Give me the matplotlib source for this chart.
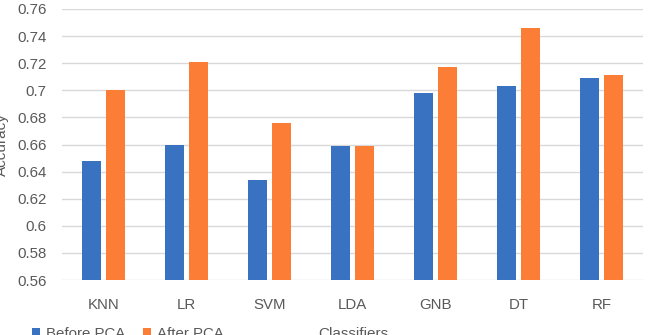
import matplotlib
matplotlib.use("Agg")
import matplotlib.pyplot as plt
import numpy as np

categories = ["KNN", "LR", "SVM", "LDA", "GNB", "DT", "RF"]
before_pca = [0.648, 0.660, 0.634, 0.659, 0.698, 0.703, 0.709]
after_pca = [0.700, 0.721, 0.676, 0.659, 0.717, 0.746, 0.711]
yticks = [0.56, 0.58, 0.6, 0.62, 0.64, 0.66, 0.68, 0.7, 0.72, 0.74, 0.76]
ytick_labels = ["0.56", "0.58", "0.6", "0.62", "0.64", "0.66", "0.68", "0.7", "0.72", "0.74", "0.76"]

plt.rcParams['font.family'] = ['Liberation Sans', 'DejaVu Sans']
txt = "#595959"
blue = "#3A72C2"
orange = "#FB7D36"

W, H = 648, 335
fig = plt.figure(figsize=(W / 100, H / 100), dpi=100)
ax = fig.add_axes([62 / W, 1 - 280 / H, (643 - 62) / W, (280 - 9) / H])

x = np.arange(len(categories))
bw = 0.23
off = 0.145
ax.bar(x - off, before_pca, bw, color=blue, label="Before PCA", zorder=3)
ax.bar(x + off, after_pca, bw, color=orange, label="After PCA", zorder=3)

ax.set_ylim(0.56, 0.76)
ax.set_xlim(-0.5, len(categories) - 0.5)
ax.set_yticks(yticks)
ax.set_yticklabels(ytick_labels)
ax.set_xticks(x)
ax.set_xticklabels(categories)
ax.tick_params(axis='both', length=0, colors=txt, labelsize=10.8)
ax.tick_params(axis='x', pad=13)
ax.tick_params(axis='y', pad=11)
for s in ax.spines.values():
    s.set_visible(False)
ax.yaxis.grid(True, color="#D9D9D9", linewidth=1, zorder=0)
ax.set_axisbelow(True)

fig.text(2 / W, 1 - 145 / H, "Accuracy", rotation=90, ha='center', va='center',
         color=txt, fontsize=11)
fig.text(353 / W, 1 - 334 / H, "Classifiers", ha='center', va='center',
         color=txt, fontsize=11)

leg = fig.legend(loc='center left', bbox_to_anchor=(18 / W, 1 - 334 / H), ncol=2,
                 frameon=False, fontsize=10.8, handlelength=0.55, handleheight=0.55,
                 handletextpad=0.4, columnspacing=1.2, labelcolor=txt)

fig.savefig("out.png", dpi=100)
